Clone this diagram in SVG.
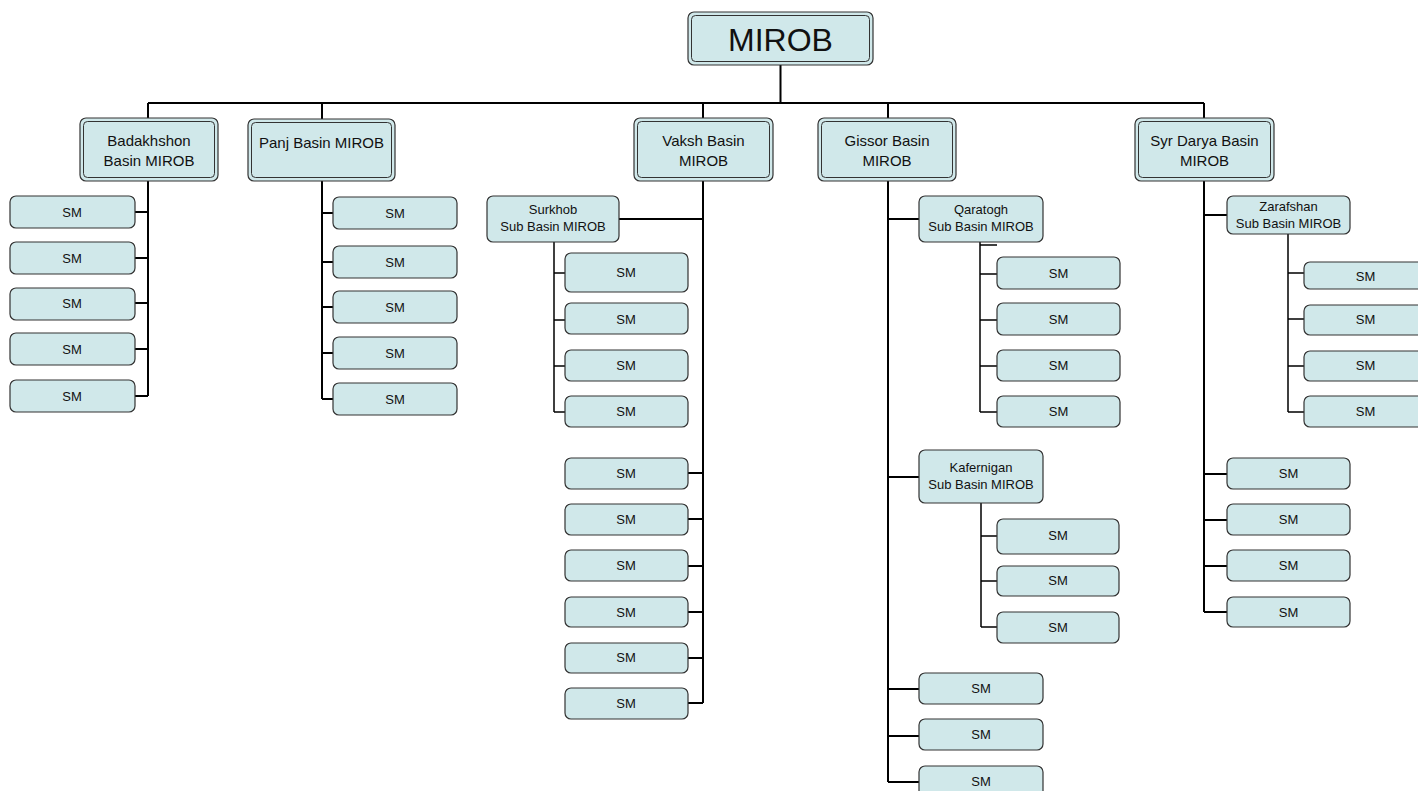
<svg xmlns="http://www.w3.org/2000/svg" width="1418" height="791" viewBox="0 0 1418 791">
<style>
.b{fill:#d0e8ea;stroke:#333;stroke-width:1.2}
.i{fill:none;stroke:#333;stroke-width:1}
.t{font-family:"Liberation Sans",Arial,sans-serif;fill:#111;text-anchor:middle}
.m{font-size:15px}
.s{font-size:13px}
.c{fill:none;stroke:#000;stroke-width:2}
.d{fill:none;stroke:#000;stroke-width:1.5}
</style>
<rect width="1418" height="791" fill="#fff"/>
<g id="connectors">
<path class="c" d="M780.5 65V103M148 103H1204M148 103V118M322 103V119M703 103V118M888 103V118M1204 103V118"/>
<path class="c" d="M148 181V396M135 212H148M135 258H148M135 303H148M135 349H148M135 396H148"/>
<path class="c" d="M322 181V399M322 213H333M322 262H333M322 307H333M322 353H333M322 399H333"/>
<path class="c" d="M703 181V703M619 219H703M688 473H703M688 519H703M688 566H703M688 612H703M688 658H703M688 703H703"/>
<path class="d" d="M554 242V412M554 273H565M554 320H565M554 366H565M554 412H565"/>
<path class="c" d="M888 181V782M888 219H919M888 477H919M888 689H919M888 736H919M888 782H919"/>
<path class="d" d="M980 242V412M980 245H997M980 274H997M980 320H997M980 366H997M980 412H997"/>
<path class="d" d="M981 503V627M981 536H997M981 581H997M981 627H997"/>
<path class="c" d="M1204 181V612M1204 215H1227M1204 474H1227M1204 520H1227M1204 566H1227M1204 612H1227"/>
<path class="d" d="M1288 234V412M1288 273H1304M1288 319H1304M1288 366H1304M1288 412H1304"/>
</g>
<g id="mirob"><rect class="b" x="688" y="12" width="185" height="53" rx="6"/><rect class="i" x="691.5" y="15.5" width="178" height="46" rx="4"/><text class="t" x="780.5" y="51" font-size="32">MIROB</text></g>
<g id="badakhshon"><rect class="b" x="80" y="118" width="138" height="63" rx="6"/><rect class="i" x="83.5" y="121.5" width="131" height="56" rx="4"/><text class="t m" x="149" y="146">Badakhshon</text><text class="t m" x="149" y="166">Basin MIROB</text></g>
<g id="panj"><rect class="b" x="248" y="119" width="147" height="62" rx="6"/><rect class="i" x="251.5" y="122.5" width="140" height="55" rx="4"/><text class="t m" x="321.5" y="148">Panj Basin MIROB</text></g>
<g id="vaksh"><rect class="b" x="634" y="118" width="139" height="63" rx="6"/><rect class="i" x="637.5" y="121.5" width="132" height="56" rx="4"/><text class="t m" x="703.5" y="146">Vaksh Basin</text><text class="t m" x="703.5" y="166">MIROB</text></g>
<g id="gissor"><rect class="b" x="818" y="118" width="138" height="63" rx="6"/><rect class="i" x="821.5" y="121.5" width="131" height="56" rx="4"/><text class="t m" x="887" y="146">Gissor Basin</text><text class="t m" x="887" y="166">MIROB</text></g>
<g id="syrdarya"><rect class="b" x="1135" y="118" width="139" height="63" rx="6"/><rect class="i" x="1138.5" y="121.5" width="132" height="56" rx="4"/><text class="t m" x="1204.5" y="146">Syr Darya Basin</text><text class="t m" x="1204.5" y="166">MIROB</text></g>
<g id="surkhob"><rect class="b" x="487" y="196" width="132" height="46" rx="6"/><text class="t s" x="553" y="214">Surkhob</text><text class="t s" x="553" y="231">Sub Basin MIROB</text></g>
<g id="qaratogh"><rect class="b" x="919" y="196" width="124" height="46" rx="6"/><text class="t s" x="981" y="214">Qaratogh</text><text class="t s" x="981" y="231">Sub Basin MIROB</text></g>
<g id="kafernigan"><rect class="b" x="919" y="450" width="124" height="53" rx="6"/><text class="t s" x="981" y="472">Kafernigan</text><text class="t s" x="981" y="489">Sub Basin MIROB</text></g>
<g id="zarafshan"><rect class="b" x="1227" y="196" width="123" height="38" rx="6"/><text class="t s" x="1288.5" y="211">Zarafshan</text><text class="t s" x="1288.5" y="228">Sub Basin MIROB</text></g>
<g id="sm-badakhshon">
<rect class="b" x="10" y="196" width="125" height="32" rx="6"/><text class="t s" x="72" y="217">SM</text>
<rect class="b" x="10" y="242" width="125" height="32" rx="6"/><text class="t s" x="72" y="263">SM</text>
<rect class="b" x="10" y="288" width="125" height="32" rx="6"/><text class="t s" x="72" y="308">SM</text>
<rect class="b" x="10" y="333" width="125" height="32" rx="6"/><text class="t s" x="72" y="354">SM</text>
<rect class="b" x="10" y="380" width="125" height="32" rx="6"/><text class="t s" x="72" y="401">SM</text>
</g>
<g id="sm-panj">
<rect class="b" x="333" y="197" width="124" height="32" rx="6"/><text class="t s" x="395" y="218">SM</text>
<rect class="b" x="333" y="246" width="124" height="32" rx="6"/><text class="t s" x="395" y="267">SM</text>
<rect class="b" x="333" y="291" width="124" height="32" rx="6"/><text class="t s" x="395" y="312">SM</text>
<rect class="b" x="333" y="337" width="124" height="32" rx="6"/><text class="t s" x="395" y="358">SM</text>
<rect class="b" x="333" y="383" width="124" height="32" rx="6"/><text class="t s" x="395" y="404">SM</text>
</g>
<g id="sm-surkhob">
<rect class="b" x="565" y="253" width="123" height="39" rx="6"/><text class="t s" x="626" y="277">SM</text>
<rect class="b" x="565" y="303" width="123" height="31" rx="6"/><text class="t s" x="626" y="324">SM</text>
<rect class="b" x="565" y="350" width="123" height="31" rx="6"/><text class="t s" x="626" y="370">SM</text>
<rect class="b" x="565" y="396" width="123" height="31" rx="6"/><text class="t s" x="626" y="416">SM</text>
</g>
<g id="sm-vaksh">
<rect class="b" x="565" y="458" width="123" height="31" rx="6"/><text class="t s" x="626" y="478">SM</text>
<rect class="b" x="565" y="504" width="123" height="31" rx="6"/><text class="t s" x="626" y="524">SM</text>
<rect class="b" x="565" y="550" width="123" height="31" rx="6"/><text class="t s" x="626" y="570">SM</text>
<rect class="b" x="565" y="597" width="123" height="30" rx="6"/><text class="t s" x="626" y="617">SM</text>
<rect class="b" x="565" y="643" width="123" height="30" rx="6"/><text class="t s" x="626" y="662">SM</text>
<rect class="b" x="565" y="688" width="123" height="31" rx="6"/><text class="t s" x="626" y="708">SM</text>
</g>
<g id="sm-qaratogh">
<rect class="b" x="997" y="257" width="123" height="32" rx="6"/><text class="t s" x="1058.5" y="278">SM</text>
<rect class="b" x="997" y="303" width="123" height="32" rx="6"/><text class="t s" x="1058.5" y="324">SM</text>
<rect class="b" x="997" y="350" width="123" height="31" rx="6"/><text class="t s" x="1058.5" y="370">SM</text>
<rect class="b" x="997" y="396" width="123" height="31" rx="6"/><text class="t s" x="1058.5" y="416">SM</text>
</g>
<g id="sm-kafernigan">
<rect class="b" x="997" y="519" width="122" height="35" rx="6"/><text class="t s" x="1058" y="540">SM</text>
<rect class="b" x="997" y="566" width="122" height="30" rx="6"/><text class="t s" x="1058" y="585">SM</text>
<rect class="b" x="997" y="612" width="122" height="31" rx="6"/><text class="t s" x="1058" y="632">SM</text>
</g>
<g id="sm-gissor">
<rect class="b" x="919" y="673" width="124" height="31" rx="6"/><text class="t s" x="981" y="693">SM</text>
<rect class="b" x="919" y="719" width="124" height="31" rx="6"/><text class="t s" x="981" y="739">SM</text>
<rect class="b" x="919" y="766" width="124" height="31" rx="6"/><text class="t s" x="981" y="786">SM</text>
</g>
<g id="sm-zarafshan">
<rect class="b" x="1304" y="262" width="123" height="27" rx="6"/><text class="t s" x="1365.5" y="281">SM</text>
<rect class="b" x="1304" y="305" width="123" height="30" rx="6"/><text class="t s" x="1365.5" y="324">SM</text>
<rect class="b" x="1304" y="351" width="123" height="30" rx="6"/><text class="t s" x="1365.5" y="370">SM</text>
<rect class="b" x="1304" y="396" width="123" height="31" rx="6"/><text class="t s" x="1365.5" y="416">SM</text>
</g>
<g id="sm-syrdarya">
<rect class="b" x="1227" y="458" width="123" height="31" rx="6"/><text class="t s" x="1288.5" y="478">SM</text>
<rect class="b" x="1227" y="504" width="123" height="31" rx="6"/><text class="t s" x="1288.5" y="524">SM</text>
<rect class="b" x="1227" y="550" width="123" height="31" rx="6"/><text class="t s" x="1288.5" y="570">SM</text>
<rect class="b" x="1227" y="597" width="123" height="30" rx="6"/><text class="t s" x="1288.5" y="617">SM</text>
</g>
</svg>
